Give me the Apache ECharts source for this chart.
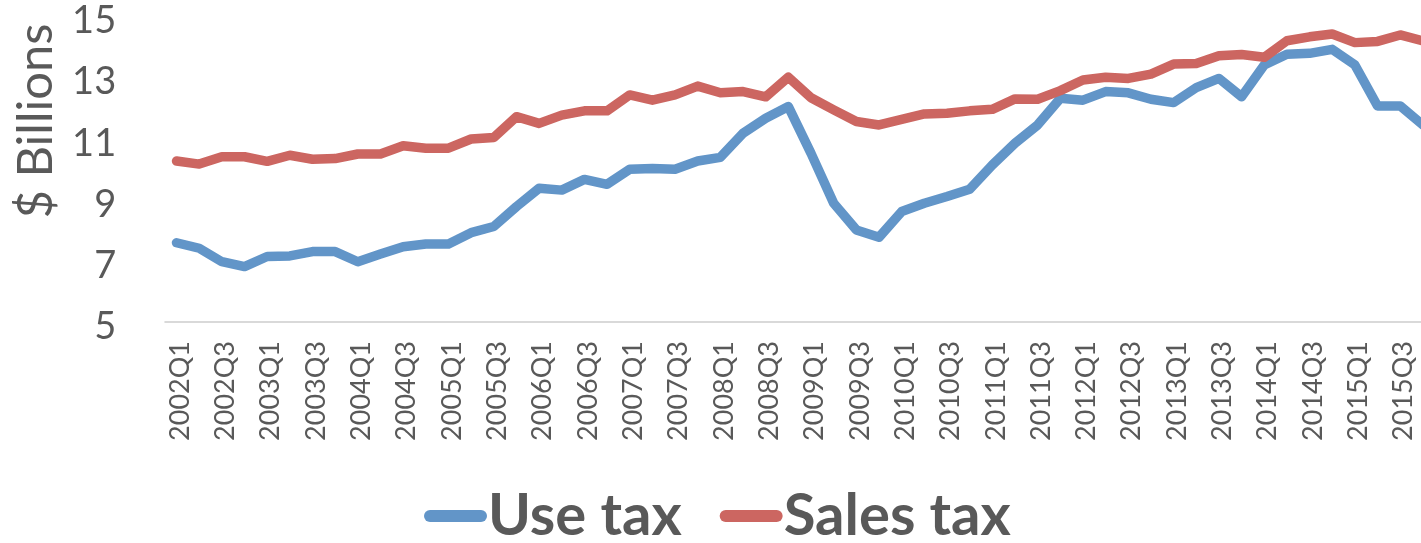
<!DOCTYPE html>
<html>
<head>
<meta charset="utf-8">
<script src="https://cdn.jsdelivr.net/npm/echarts@6/dist/echarts.min.js"></script>
<style>
html,body{margin:0;padding:0;background:#fff;}
#chart{width:1421px;height:543px;}
</style>
</head>
<body>
<div id="chart"></div>
<script>
const categories = ['2002Q1','2002Q2','2002Q3','2002Q4','2003Q1','2003Q2','2003Q3','2003Q4',
  '2004Q1','2004Q2','2004Q3','2004Q4','2005Q1','2005Q2','2005Q3','2005Q4',
  '2006Q1','2006Q2','2006Q3','2006Q4','2007Q1','2007Q2','2007Q3','2007Q4',
  '2008Q1','2008Q2','2008Q3','2008Q4','2009Q1','2009Q2','2009Q3','2009Q4',
  '2010Q1','2010Q2','2010Q3','2010Q4','2011Q1','2011Q2','2011Q3','2011Q4',
  '2012Q1','2012Q2','2012Q3','2012Q4','2013Q1','2013Q2','2013Q3','2013Q4',
  '2014Q1','2014Q2','2014Q3','2014Q4','2015Q1','2015Q2','2015Q3','2015Q4'];
const useTax = [7.59,7.41,6.97,6.81,7.14,7.16,7.30,7.30,6.97,7.22,7.46,7.55,7.55,7.92,
  8.12,8.77,9.37,9.31,9.66,9.50,9.99,10.02,9.99,10.26,10.38,11.17,11.66,12.04,10.51,8.88,
  8.01,7.77,8.61,8.88,9.10,9.34,10.13,10.84,11.44,12.31,12.25,12.53,12.49,12.28,12.17,
  12.66,12.96,12.36,13.40,13.75,13.78,13.91,13.40,12.06,12.06,11.44];
const salesTax = [10.26,10.16,10.40,10.40,10.25,10.45,10.32,10.34,10.49,10.49,10.76,10.68,
  10.68,10.98,11.03,11.71,11.49,11.76,11.90,11.90,12.42,12.25,12.42,12.71,12.49,12.53,
  12.36,13.00,12.33,11.93,11.55,11.44,11.62,11.80,11.82,11.90,11.95,12.29,12.28,12.56,
  12.91,13.00,12.96,13.10,13.43,13.45,13.70,13.74,13.65,14.19,14.32,14.41,14.13,14.17,
  14.38,14.19];
const yTicks = {min: 5, max: 15, interval: 2};
const seriesNames = ['Use tax', 'Sales tax'];
const colors = ['#6295C8', '#CC6661'];
const yTitle = '$ Billions';

const chart = echarts.init(document.getElementById('chart'), null, {renderer: 'canvas'});
const textColor = '#595959';
const font = 'Lato, "Open Sans", sans-serif';
chart.setOption({
  animation: false,
  color: colors,
  textStyle: {fontFamily: font},
  grid: {left: 165.2, top: 16, width: 1269, height: 306, containLabel: false, outerBoundsMode: 'none'},
  legend: {
    data: seriesNames,
    left: 419, top: 482,
    icon: 'path://M6,0 L57,0 A6,6 0 0 1 57,12 L6,12 A6,6 0 0 1 6,0 Z',
    itemWidth: 63, itemHeight: 12,
    itemGap: 38,
    textStyle: {fontSize: 58, fontWeight: 'bold', color: textColor, fontFamily: font, padding: [0,0,0,-4]}
  },
  xAxis: {
    type: 'category',
    data: categories,
    boundaryGap: true,
    axisLine: {show: true, lineStyle: {color: '#D9D9D9', width: 2}},
    axisTick: {show: false},
    axisLabel: {interval: 1, rotate: 90, color: textColor, margin: 19,
      formatter: '{a|{value}}',
      rich: {a: {fontSize: 27, color: textColor, fontFamily: font, padding: [7,0,0,0]}}}
  },
  yAxis: {
    type: 'value',
    min: yTicks.min, max: yTicks.max, interval: yTicks.interval,
    axisLine: {show: false},
    axisTick: {show: false},
    splitLine: {show: false},
    axisLabel: {color: textColor, margin: 49,
      formatter: '{a|{value}}',
      rich: {a: {fontSize: 38, color: textColor, fontFamily: font, padding: [10,0,0,0]}}}
  },
  graphic: [{
    type: 'text',
    x: 36, y: 121,
    rotation: Math.PI / 2,
    style: {text: yTitle, fontSize: 49, fill: textColor, fontFamily: font, align: 'center', verticalAlign: 'middle'}
  }],
  series: [
    {name: seriesNames[0], type: 'line', data: useTax, symbol: 'none', showSymbol: false,
     lineStyle: {width: 9.5, color: colors[0], cap: 'round', join: 'round'}},
    {name: seriesNames[1], type: 'line', data: salesTax, symbol: 'none', showSymbol: false,
     lineStyle: {width: 9.5, color: colors[1], cap: 'round', join: 'round'}}
  ]
});
</script>
</body>
</html>
